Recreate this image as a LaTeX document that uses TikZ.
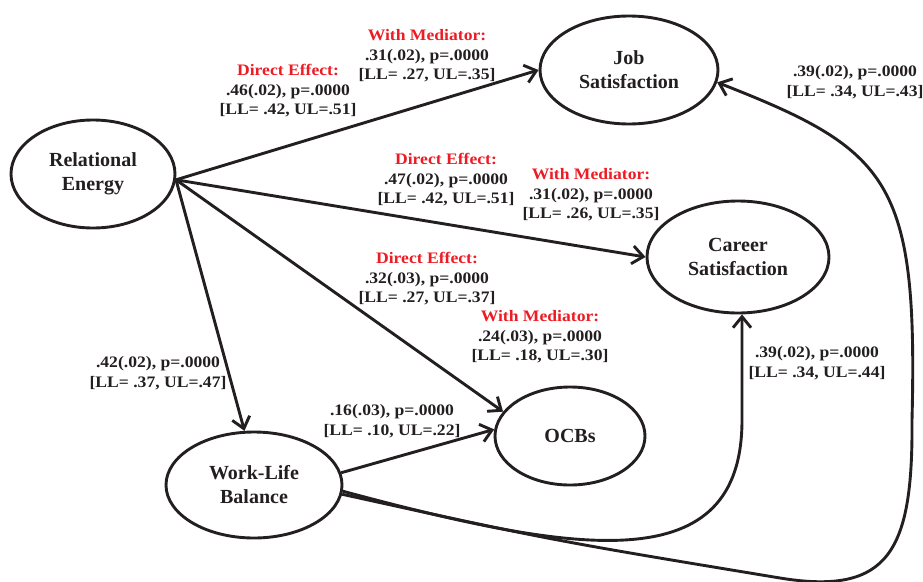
\documentclass[tikz,border=0pt]{standalone}
\usepackage{fontspec}
\setmainfont{Liberation Serif}
\newfontfamily\coeffont[FakeStretch=1.1]{Liberation Serif}
\usepackage{xcolor}
\usetikzlibrary{arrows.meta,shapes.geometric}
\definecolor{labRed}{HTML}{ED1C24}
\definecolor{inkDark}{HTML}{231F20}

\begin{document}
\begin{tikzpicture}[x=1pt, y=-1pt,
  latent/.style={draw=inkDark, ellipse, line width=2.9pt, inner sep=0pt, align=center, text=inkDark, font=\fontsize{20}{24}\selectfont\bfseries},
  coef/.style={align=center, inner sep=0pt, text=inkDark, font=\coeffont\fontsize{16}{19.5}\selectfont\bfseries},
  arr/.style={-{Straight Barb[length=11pt,width=18pt]}, line width=2.9pt, draw=inkDark}]
\useasboundingbox (0,0) rectangle (923,581);
\node[latent, minimum width=164pt, minimum height=108pt] (re) at (93,174) {Relational\\Energy};
\node[latent, minimum width=178pt, minimum height=108pt] (js) at (629,70) {Job\\Satisfaction};
\node[latent, minimum width=182pt, minimum height=112pt] (cs) at (738,257) {Career\\Satisfaction};
\node[latent, minimum width=150pt, minimum height=98pt] (ocb) at (570,436) {OCBs};
\node[latent, minimum width=176pt, minimum height=106pt] (wlb) at (254,485) {Work-Life\\Balance};
\foreach \a/\b in {re.-4/js.west,re.-4/cs.west,re.-4/ocb.160,re.-4/wlb.100,wlb.8/ocb.175}\draw[arr](\a)--(\b);
\draw[arr] (wlb.-4) .. controls (580,555) and (742,580) .. (742,420) -- (cs.-86);
\draw[arr] (wlb.-6) .. controls (550,540) .. (780,578) .. controls (890,596) and (913,550) .. (912,420)
  .. controls (918,180) and (890,150) .. (js.-8);
\node[coef] (m1) at (427,56) {\textcolor{labRed}{With Mediator:}\\.31(.02), p=.0000\\{}[LL= .27, UL=.35]};
\node[coef] (d1) at (288,91) {\textcolor{labRed}{Direct Effect:}\\.46(.02), p=.0000\\{}[LL= .42, UL=.51]};
\node[coef] (d2) at (446,180) {\textcolor{labRed}{Direct Effect:}\\.47(.02), p=.0000\\{}[LL= .42, UL=.51]};
\node[coef] (m2) at (591,195) {\textcolor{labRed}{With Mediator:}\\.31(.02), p=.0000\\{}[LL= .26, UL=.35]};
\node[coef] (d3) at (427,279) {\textcolor{labRed}{Direct Effect:}\\.32(.03), p=.0000\\{}[LL= .27, UL=.37]};
\node[coef] (m3) at (540,337) {\textcolor{labRed}{With Mediator:}\\.24(.03), p=.0000\\{}[LL= .18, UL=.30]};
\node[coef] (c1) at (158,373) {.42(.02), p=.0000\\{}[LL= .37, UL=.47]};
\node[coef] (c2) at (392,421) {.16(.03), p=.0000\\{}[LL= .10, UL=.22]};
\node[coef] (c3) at (817,363) {.39(.02), p=.0000\\{}[LL= .34, UL=.44]};
\node[coef] (c4) at (855,82) {.39(.02), p=.0000\\{}[LL= .34, UL=.43]};
\end{tikzpicture}
\end{document}
